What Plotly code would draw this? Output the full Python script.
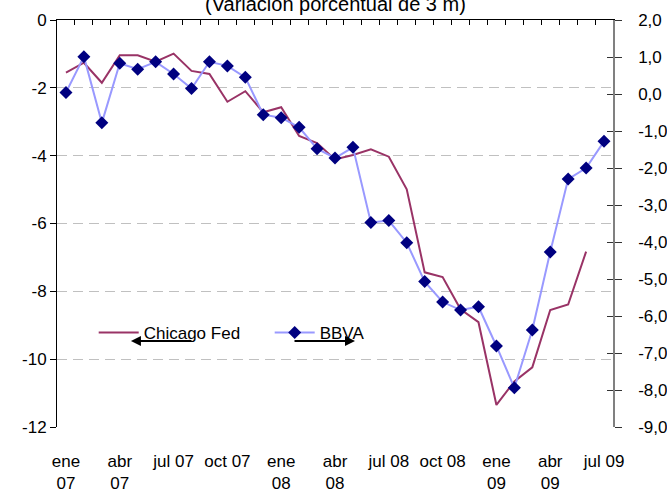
import plotly.graph_objects as go

# ---------------- data ----------------
months = ["ene 07", "feb 07", "mar 07", "abr 07", "may 07", "jun 07", "jul 07", "ago 07", "sep 07", "oct 07", "nov 07", "dic 07",
          "ene 08", "feb 08", "mar 08", "abr 08", "may 08", "jun 08", "jul 08", "ago 08", "sep 08", "oct 08", "nov 08", "dic 08",
          "ene 09", "feb 09", "mar 09", "abr 09", "may 09", "jun 09", "jul 09"]

chicago_fed = [-1.55, -1.26, -1.85, -1.04, -1.04, -1.23, -0.99, -1.50, -1.59, -2.41, -2.10, -2.72,
               -2.57, -3.42, -3.63, -4.11, -3.98, -3.81, -4.03, -4.99, -7.44, -7.58, -8.53, -8.91,
               -11.35, -10.66, -10.24, -8.55, -8.39, -6.83, None]

bbva = [0.04, 1.01, -0.78, 0.83, 0.67, 0.87, 0.54, 0.15, 0.87, 0.76, 0.45, -0.56,
        -0.64, -0.90, -1.48, -1.73, -1.44, -3.47, -3.42, -4.02, -5.07, -5.62, -5.84, -5.75,
        -6.81, -7.94, -6.38, -4.27, -2.30, -2.00, -1.28]

x_tick_vals = months[::3]
x_tick_text = ["ene<br>07", "abr<br>07", "jul 07", "oct 07", "ene<br>08", "abr<br>08",
               "jul 08", "oct 08", "ene<br>09", "abr<br>09", "jul 09"]

left_tick_vals = [0, -2, -4, -6, -8, -10, -12]
left_tick_text = ["0", "-2", "-4", "-6", "-8", "-10", "-12"]

right_tick_vals = [2, 1, 0, -1, -2, -3, -4, -5, -6, -7, -8, -9]
right_tick_text = ["2,0", "1,0", "0,0", "-1,0", "-2,0", "-3,0", "-4,0", "-5,0", "-6,0", "-7,0", "-8,0", "-9,0"]

title_text = "(Variación porcentual de 3 m)"

# ---------------- figure ----------------
FONT = "Liberation Sans, Arial, sans-serif"
FS = 17

fig = go.Figure()

fig.add_trace(go.Scatter(
    x=months, y=chicago_fed, name="Chicago Fed", mode="lines",
    line=dict(color="#993366", width=2), xaxis="x", yaxis="y",
    connectgaps=False,
))

fig.add_trace(go.Scatter(
    x=months, y=bbva, name="BBVA", mode="lines+markers",
    line=dict(color="#9999ff", width=2),
    marker=dict(symbol="diamond", size=10, color="#000080"),
    xaxis="x2", yaxis="y2",
))

# invisible helper trace so the extra tick axis is drawn
fig.add_trace(go.Scatter(
    x=[months[0]], y=[None], xaxis="x2", yaxis="y3", showlegend=False,
    hoverinfo="skip", mode="lines",
))

fig.update_layout(
    width=667, height=492,
    margin=dict(l=57, r=54, t=20, b=65, autoexpand=False),
    paper_bgcolor="white", plot_bgcolor="white",
    font=dict(family=FONT, size=FS, color="black"),
    showlegend=True,
    legend=dict(
        orientation="h", x=0.066, y=0.231, xanchor="left", yanchor="middle",
        bgcolor="rgba(0,0,0,0)", font=dict(family=FONT, size=FS),
        itemwidth=40, entrywidth=121, tracegroupgap=0,
    ),
    xaxis=dict(
        type="category", categoryorder="array", categoryarray=months,
        range=[-0.5, len(months) - 0.5], automargin=False,
        showline=False, showgrid=False, zeroline=False,
        tickmode="array", tickvals=x_tick_vals, ticktext=x_tick_text,
        ticks="", ticklabelstandoff=22,
        tickfont=dict(family=FONT, size=FS),
    ),
    xaxis2=dict(
        type="category", categoryorder="array", categoryarray=months,
        range=[-0.5, len(months) - 0.5], automargin=False,
        overlaying="x", side="top", anchor="y2",
        showline=True, linecolor="black", linewidth=1,
        showgrid=False, zeroline=False,
        tickmode="linear", tick0=0, dtick=1, tickson="boundaries",
        ticks="inside", ticklen=5, tickcolor="black", showticklabels=False,
    ),
    yaxis=dict(
        range=[-12, 0], side="left", automargin=False,
        showline=True, linecolor="black", linewidth=1,
        ticks="outside", ticklen=6, tickcolor="black",
        tickmode="array", tickvals=left_tick_vals, ticktext=left_tick_text,
        showgrid=True, gridcolor="#c0c0c0", gridwidth=1, griddash="10px,6px",
        zeroline=False,
        tickfont=dict(family=FONT, size=FS),
    ),
    yaxis2=dict(
        range=[-9, 2], side="right", overlaying="y", anchor="x2", automargin=False,
        showline=True, linecolor="#808080", linewidth=1.5,
        ticks="outside", ticklen=7, tickcolor="#333333",
        tickmode="array", tickvals=right_tick_vals, ticktext=right_tick_text,
        ticklabelstandoff=13,
        showgrid=False, zeroline=False,
        tickfont=dict(family=FONT, size=FS),
    ),
    yaxis3=dict(
        range=[-9, 2], side="right", overlaying="y", anchor="x2", automargin=False,
        showline=False, ticks="inside", ticklen=6, tickcolor="#333333",
        tickmode="array", tickvals=right_tick_vals, showticklabels=False,
        showgrid=False, zeroline=False,
    ),
)

fig.add_annotation(
    text=title_text, xref="paper", yref="paper", x=0.5, y=1,
    xanchor="center", yanchor="middle", yshift=16, showarrow=False,
    font=dict(family=FONT, size=20),
)

# axis-direction arrows under the legend entries
fig.add_annotation(
    xref="paper", yref="paper", x=0.133, y=0.211, ax=62, ay=0,
    text="", showarrow=True, arrowhead=2, arrowsize=1, arrowwidth=2, arrowcolor="black",
)
fig.add_annotation(
    xref="paper", yref="paper", x=0.536, y=0.211, ax=-62, ay=0,
    text="", showarrow=True, arrowhead=2, arrowsize=1, arrowwidth=2, arrowcolor="black",
)

fig.write_html("out.html", config={"displayModeBar": False},
               post_script="document.body.style.margin='0px';")
